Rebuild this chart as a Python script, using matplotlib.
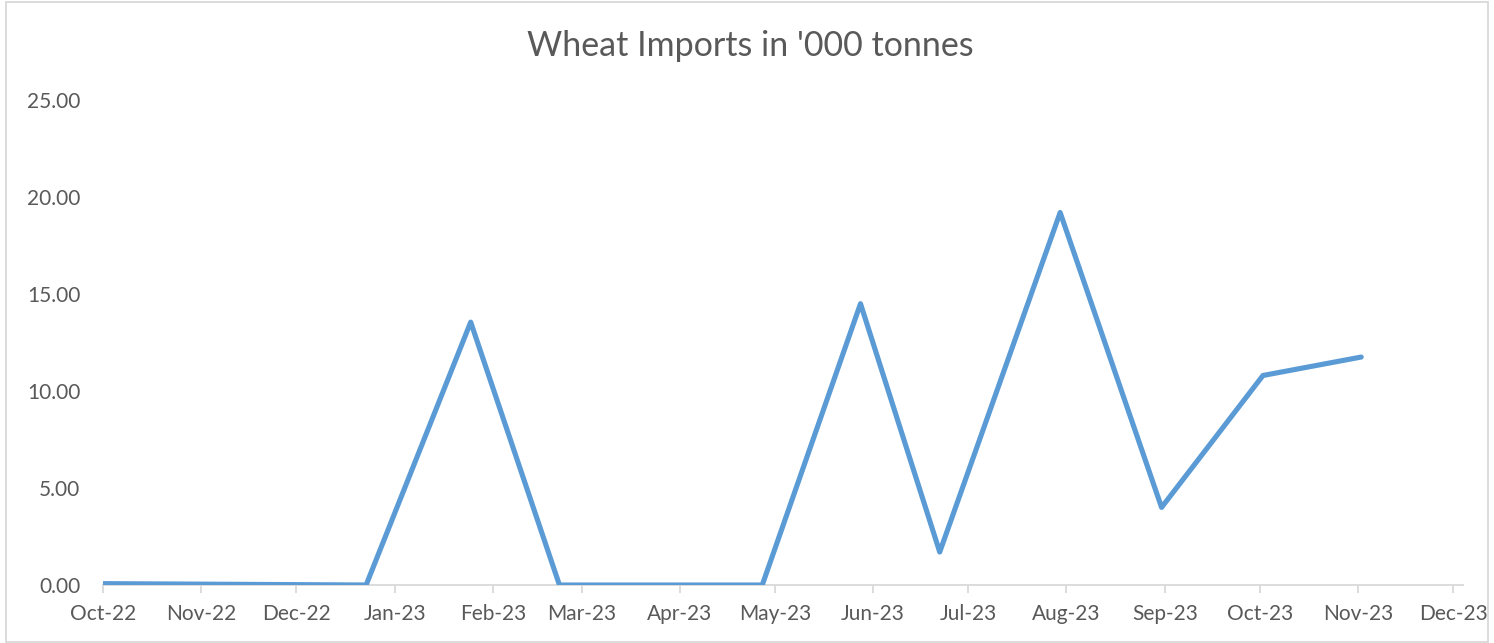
import datetime as dt
import matplotlib
matplotlib.use("Agg")
import matplotlib.pyplot as plt
import matplotlib.dates as mdates
from matplotlib.patches import Rectangle

plt.rcParams['font.family'] = ['Lato', 'DejaVu Sans']

# data (date axis, '000 tonnes)
dates = [dt.date(2022, 10, 1), dt.date(2022, 12, 23), dt.date(2023, 1, 25),
         dt.date(2023, 2, 22), dt.date(2023, 4, 27), dt.date(2023, 5, 28),
         dt.date(2023, 6, 22), dt.date(2023, 7, 30), dt.date(2023, 8, 31),
         dt.date(2023, 10, 2), dt.date(2023, 11, 2)]
values = [0.07, 0.0, 13.55, 0.0, 0.0, 14.5, 1.7, 19.2, 4.0, 10.8, 11.75]

tick_months = [dt.date(2022, 10, 1), dt.date(2022, 11, 1), dt.date(2022, 12, 1),
               dt.date(2023, 1, 1), dt.date(2023, 2, 1), dt.date(2023, 3, 1),
               dt.date(2023, 4, 1), dt.date(2023, 5, 1), dt.date(2023, 6, 1),
               dt.date(2023, 7, 1), dt.date(2023, 8, 1), dt.date(2023, 9, 1),
               dt.date(2023, 10, 1), dt.date(2023, 11, 1), dt.date(2023, 12, 1)]
y_ticks = [0, 5, 10, 15, 20, 25]

fig = plt.figure(figsize=(14.94, 6.43), dpi=100)
ax = fig.add_axes([0.069, 0.0902, 0.91, 0.7543])

ax.plot(dates, values, color='#5B9BD5', lw=3.7, solid_capstyle='round',
        solid_joinstyle='round', zorder=3)

ax.set_xlim(dt.date(2022, 10, 1), dt.date(2023, 12, 4))
ax.set_ylim(0, 25)
ax.set_xticks(tick_months)
ax.xaxis.set_major_formatter(mdates.DateFormatter('%b-%y'))
ax.set_yticks(y_ticks)
ax.set_yticklabels([f"{v:.2f}" for v in y_ticks])

for s in ['top', 'right', 'left']:
    ax.spines[s].set_visible(False)
ax.spines['bottom'].set_color('#D9D9D9')
ax.spines['bottom'].set_linewidth(1.3)
ax.tick_params(axis='x', colors='#D9D9D9', length=6, width=1.3, pad=8,
               labelcolor='#595959', labelsize=15)
ax.tick_params(axis='y', length=0, pad=16.5, labelcolor='#595959', labelsize=15)

fig.text(0.502, 0.928, "Wheat Imports in '000 tonnes", ha='center', va='center',
         fontsize=24.5, color='#595959')

fig.patches.append(Rectangle((0.004, 0.002), 0.992, 0.995, transform=fig.transFigure,
                             fill=False, edgecolor='#D9D9D9', lw=1.3))

fig.savefig("out.png", dpi=100)
